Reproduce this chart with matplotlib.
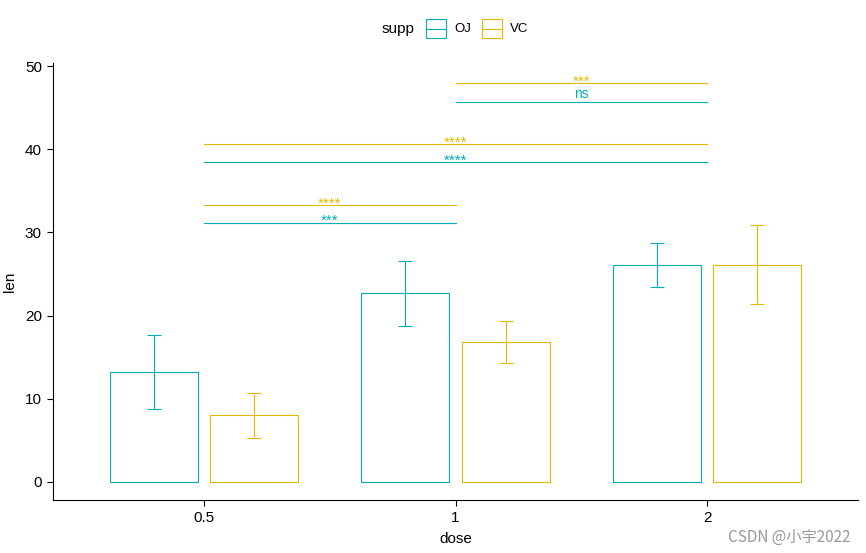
import matplotlib
matplotlib.use("Agg")
import matplotlib.pyplot as plt
import numpy as np
from matplotlib.patches import Rectangle
from matplotlib.lines import Line2D

plt.rcParams['font.family'] = ['Liberation Sans', 'DejaVu Sans']

doses = ["0.5", "1", "2"]
supps = ["OJ", "VC"]
means = {"OJ": [13.23, 22.70, 26.06], "VC": [7.98, 16.77, 26.14]}
sds = {"OJ": [4.46, 3.91, 2.66], "VC": [2.75, 2.52, 4.80]}
colors = {"OJ": "#00AFBB", "VC": "#E7B800"}

# brackets: (supp, from_index, to_index, y, label)
br_supp = ["OJ", "VC", "OJ", "VC", "OJ", "VC"]
br_from = [0, 0, 0, 0, 1, 1]
br_to = [1, 1, 2, 2, 2, 2]
br_y = [31.2, 33.3, 38.5, 40.6, 45.7, 48.0]
br_lab = ["***", "****", "****", "****", "ns", "***"]

fig = plt.figure(figsize=(8.66, 5.53), dpi=100)
ax = fig.add_axes([53/866, 1-500/553, (858-53)/866, (500-63)/553])

x = np.arange(len(doses))
offs = {"OJ": -0.2, "VC": 0.2}
width = 0.35
for s in supps:
    ax.bar(x + offs[s], means[s], width=width, facecolor="none",
           edgecolor=colors[s], linewidth=0.8)
    ax.errorbar(x + offs[s], means[s], yerr=sds[s], fmt="none",
                ecolor=colors[s], elinewidth=0.8, capsize=4.7, capthick=0.8)

for s, a, b, yv, lab in zip(br_supp, br_from, br_to, br_y, br_lab):
    ax.plot([x[a], x[b]], [yv, yv], color=colors[s], lw=0.8)
    if lab == "ns":
        ax.text((x[a] + x[b]) / 2, yv + 1.0, lab, color=colors[s],
                ha="center", va="center", fontsize=10)
    else:
        ax.text((x[a] + x[b]) / 2, yv - 0.3, lab, color=colors[s],
                ha="center", va="baseline", fontsize=11)

ax.set_xlim(-0.6, 2.6)
ax.set_ylim(-2.2, 50.4)
ax.set_xticks(x)
ax.set_xticklabels(doses)
ax.set_yticks([0, 10, 20, 30, 40, 50])
ax.tick_params(axis="both", labelsize=11, length=4, width=0.8, direction="out",
               colors="black", pad=4)
ax.spines["top"].set_visible(False)
ax.spines["right"].set_visible(False)
for sp in ["left", "bottom"]:
    ax.spines[sp].set_linewidth(0.8)
ax.set_xlabel("dose", fontsize=11, labelpad=5)
ax.set_ylabel("len", fontsize=11, labelpad=6)

fig.text(398/866, 1-29/553, "supp", fontsize=11, ha="center", va="center")
for i, s in enumerate(supps):
    x0 = [426, 482][i]
    rect = Rectangle((x0/866, 1-38/553), 20/866, 19/553, transform=fig.transFigure,
                     facecolor="none", edgecolor=colors[s], lw=0.8)
    fig.add_artist(rect)
    fig.add_artist(Line2D([x0/866, (x0+20)/866], [1-28.5/553, 1-28.5/553],
                          transform=fig.transFigure, color=colors[s], lw=0.8))
    fig.text((x0+28)/866, 1-29/553, s, fontsize=9.5, ha="left", va="center")

fig.text(850/866, 1-537/553, "CSDN @小宇2022", fontsize=11, color="#999999",
         ha="right", va="center", family=['Noto Sans CJK SC', 'DejaVu Sans'])

fig.savefig("out.png", dpi=100)
